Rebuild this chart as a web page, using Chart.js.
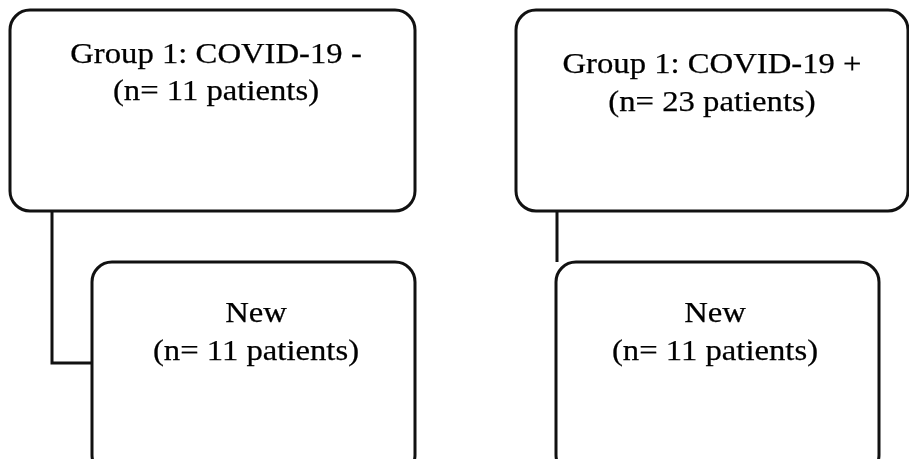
<!DOCTYPE html>
<html>
<head>
<meta charset="utf-8">
<script src="https://cdn.jsdelivr.net/npm/chart.js@4.4.1/dist/chart.umd.min.js"></script>
<style>
  html, body { margin: 0; padding: 0; background: #fff; }
  canvas { display: block; }
</style>
</head>
<body>
<canvas id="flowChart" width="909" height="459"></canvas>
<script>
// flowchart content
var groupTitles = ['Group 1: COVID-19 -', 'Group 1: COVID-19 +'];
var groupCounts = [11, 23];
var subTitles = ['New', 'New'];
var subCounts = [11, 11];

// box layout, in scale units (same as pixels here)
var topBoxes = [
    { x0: 10, y0: 10, x1: 415, y1: 211, tx: 216, ty: [63, 100] },
    { x0: 516, y0: 10, x1: 908, y1: 211, tx: 712, ty: [73, 111] }
];
var bottomBoxes = [
    { x0: 92, y0: 262, x1: 415, y1: 475, tx: 256, ty: [322, 360] },
    { x0: 556, y0: 262, x1: 879, y1: 475, tx: 715, ty: [322, 360] }
];
var connectors = [
    [{ x: 52, y: 211 }, { x: 52, y: 363 }, { x: 92, y: 363 }],
    [{ x: 557, y: 211 }, { x: 557, y: 262 }]
];

var FONT = '30px "Liberation Serif", "Times New Roman", serif';

function roundRect(ctx, x0, y0, x1, y1, r) {
    ctx.beginPath();
    ctx.moveTo(x0 + r, y0);
    ctx.lineTo(x1 - r, y0);
    ctx.arcTo(x1, y0, x1, y0 + r, r);
    ctx.lineTo(x1, y1 - r);
    ctx.arcTo(x1, y1, x1 - r, y1, r);
    ctx.lineTo(x0 + r, y1);
    ctx.arcTo(x0, y1, x0, y1 - r, r);
    ctx.lineTo(x0, y0 + r);
    ctx.arcTo(x0, y0, x0 + r, y0, r);
    ctx.closePath();
}

var boxPlugin = {
    id: 'boxes',
    afterDatasetsDraw: function (chart) {
        var ctx = chart.ctx;
        var xs = chart.scales.x;
        var ys = chart.scales.y;

        function drawBox(b, lines) {
            var x0 = xs.getPixelForValue(b.x0), x1 = xs.getPixelForValue(b.x1);
            var y0 = ys.getPixelForValue(b.y0), y1 = ys.getPixelForValue(b.y1);
            ctx.save();
            roundRect(ctx, x0, y0, x1, y1, 20);
            ctx.fillStyle = '#fff';
            ctx.fill();
            ctx.lineWidth = 3;
            ctx.strokeStyle = '#111';
            ctx.stroke();
            ctx.fillStyle = '#000';
            ctx.strokeStyle = '#000';
            ctx.lineWidth = 0.25;
            ctx.font = FONT;
            ctx.textAlign = 'center';
            ctx.textBaseline = 'alphabetic';
            for (var i = 0; i < lines.length; i++) {
                ctx.save();
                ctx.translate(xs.getPixelForValue(b.tx), ys.getPixelForValue(b.ty[i]));
                ctx.scale(1.09, 1);
                ctx.fillText(lines[i], 0, 0);
                ctx.strokeText(lines[i], 0, 0);   // a touch heavier, like the scan
                ctx.restore();
            }
            ctx.restore();
        }

        for (var i = 0; i < topBoxes.length; i++) {
            drawBox(topBoxes[i], [groupTitles[i], '(n= ' + groupCounts[i] + ' patients)']);
            drawBox(bottomBoxes[i], [subTitles[i], '(n= ' + subCounts[i] + ' patients)']);
        }
    }
};

function makeChart() {
    var datasets = [];
    for (var i = 0; i < connectors.length; i++) {
        datasets.push({
            data: connectors[i],
            showLine: true,
            borderColor: '#111',
            borderWidth: 3,
            pointRadius: 0,
            fill: false,
            tension: 0
        });
    }

    var ctx = document.getElementById('flowChart');
    var myChart = new Chart(ctx, {
        type: 'scatter',
        data: { datasets: datasets },
        options: {
            responsive: false,
            animation: false,
            devicePixelRatio: 1,
            layout: { padding: 0 },
            plugins: { legend: { display: false }, tooltip: { enabled: false } },
            scales: {
                x: { type: 'linear', min: 0, max: 909, display: false },
                y: { type: 'linear', min: 0, max: 459, reverse: true, display: false }
            }
        },
        plugins: [boxPlugin]
    });
}

// wait for the serif font so the canvas text doesn't fall back
if (document.fonts && document.fonts.load) {
    document.fonts.load(FONT).then(makeChart, makeChart);
} else {
    makeChart();
}
</script>
</body>
</html>
